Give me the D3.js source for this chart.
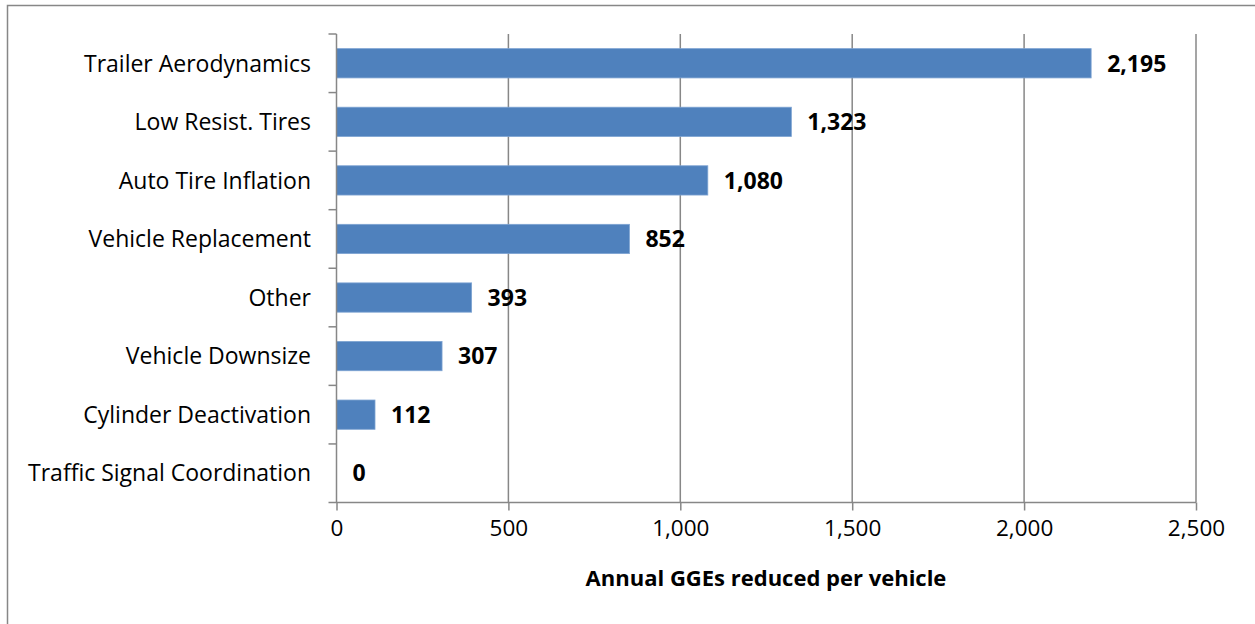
<!DOCTYPE html>
<html><head><meta charset="utf-8">
<script src="https://cdn.jsdelivr.net/npm/d3@7/dist/d3.min.js"></script>
<style>body{margin:0;background:#fff;}svg{display:block;}</style>
</head><body>
<svg id="chart" width="1255" height="624"></svg>
<script>
const categories = ["Trailer Aerodynamics","Low Resist. Tires","Auto Tire Inflation","Vehicle Replacement","Other","Vehicle Downsize","Cylinder Deactivation","Traffic Signal Coordination"];
const values = [2195,1323,1080,852,393,307,112,0];
const xTicks = [0,500,1000,1500,2000,2500];
const xTitle = "Annual GGEs reduced per vehicle";

const svg = d3.select("#chart");
const font = "'Open Sans', sans-serif";
const grid = "#878787";

// outer frame
svg.append("rect").attr("x",7.5).attr("y",5.5).attr("width",1260).attr("height",640)
  .attr("fill","none").attr("stroke","#878787").attr("stroke-width",1.5);

const L=336.5, R=1196, T=34, B=502.5;
const x = d3.scaleLinear().domain([0,2500]).range([L,R]);
const y = d3.scaleBand().domain(categories).range([T,B]).paddingInner(0.5).paddingOuter(0.25);

// gridlines
svg.append("g").selectAll("line").data(xTicks.slice(1)).join("line")
  .attr("x1",d=>x(d)).attr("x2",d=>x(d)).attr("y1",T).attr("y2",B)
  .attr("stroke",grid).attr("stroke-width",1.5);

// bars
svg.append("g").selectAll("rect").data(values).join("rect")
  .attr("x",x(0)).attr("y",(d,i)=>y(categories[i]))
  .attr("width",d=>x(d)-x(0)).attr("height",y.bandwidth())
  .attr("fill","#4F81BD").attr("stroke","#7DA3D2").attr("stroke-width",0.8);

// x axis
const xAxis = d3.axisBottom(x).tickValues(xTicks).tickSize(8).tickPadding(10).tickFormat(d3.format(","));
const gx = svg.append("g").attr("transform",`translate(0,${B})`).call(xAxis);
gx.select(".domain").attr("stroke",grid).attr("stroke-width",1.5).attr("d",`M${L-8},0H${R}`);
gx.selectAll(".tick line").attr("stroke",grid).attr("stroke-width",1.5);
gx.selectAll("text").attr("font-family",font).attr("font-size",22.5).attr("fill","#000");

// y axis
svg.append("line").attr("x1",L).attr("x2",L).attr("y1",T).attr("y2",B).attr("stroke",grid).attr("stroke-width",1.5);
const bounds = categories.map(c=>y(c)-y.step()*y.paddingInner()/2);
svg.append("g").selectAll("line").data(bounds).join("line")
  .attr("x1",L-8).attr("x2",L).attr("y1",d=>d).attr("y2",d=>d)
  .attr("stroke",grid).attr("stroke-width",1.5);

svg.append("g").selectAll("text").data(categories).join("text")
  .attr("x",311).attr("y",d=>y(d)+y.bandwidth()/2).attr("dy","0.36em")
  .attr("text-anchor","end").attr("font-family",font).attr("font-size",23).attr("fill","#000")
  .text(d=>d);

// value labels
svg.append("g").selectAll("text").data(values).join("text")
  .attr("x",d=>x(d)+16).attr("y",(d,i)=>y(categories[i])+y.bandwidth()/2).attr("dy","0.36em")
  .attr("font-family",font).attr("font-weight","bold").attr("font-size",23).attr("fill","#000")
  .text(d=>d3.format(",")(d));

// axis title
svg.append("text").attr("x",766).attr("y",586).attr("text-anchor","middle")
  .attr("font-family",font).attr("font-weight","bold").attr("font-size",22).attr("fill","#000")
  .text(xTitle);
</script>
</body></html>
